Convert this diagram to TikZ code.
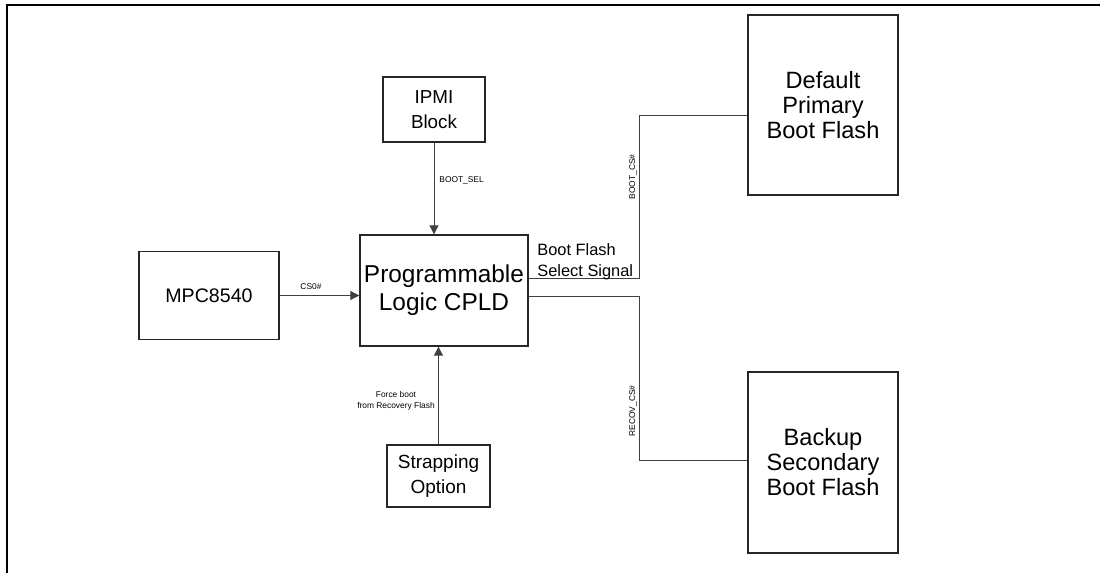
\documentclass[tikz,border=0pt]{standalone}
\usepackage{fontspec}
\setmainfont{Liberation Sans}
\usetikzlibrary{arrows.meta}

\begin{document}
\begin{tikzpicture}[x=0.5pt,y=-0.5pt]
\tikzstyle{every node}+=[inner sep=0pt]
\tikzstyle{blk}=[draw=black!85,line width=0.7pt,align=center]
\tikzstyle{sig}=[draw=black!75,line width=0.5pt]
\tikzstyle{arw}=[sig,-{Triangle[length=4.5pt,width=4.5pt]}]
\tikzstyle{tiny}=[font=\fontsize{4.2}{5.5}\selectfont,align=center]
\useasboundingbox (0,0) rectangle (1100,573);
% frame
\draw [line width=1.3pt] (1100,5) -- (7,5) -- (7,573);
% blocks
\node [blk,minimum width=51pt,minimum height=32.5pt,font=\fontsize{9.4}{12.5}\selectfont] (ipmi) at (434,109.5) {IPMI\\Block};
\node [blk,minimum width=70pt,minimum height=44pt,font=\fontsize{9.8}{12}\selectfont] (mpc) at (209,295.5) {MPC8540};
\node [blk,minimum width=84pt,minimum height=55.5pt,font=\fontsize{12.2}{14}\selectfont] (cpld) at (444,290.5) {Programmable\\Logic CPLD};
\node [blk,minimum width=51.5pt,minimum height=31pt,font=\fontsize{9.5}{12.5}\selectfont] (strap) at (438.5,476) {Strapping\\Option};
\node [blk,minimum width=75pt,minimum height=90pt,font=\fontsize{11.8}{12.5}\selectfont] (dflt) at (823,105) {Default\\Primary\\Boot Flash};
\node [blk,minimum width=75pt,minimum height=90.5pt,font=\fontsize{11.8}{12.5}\selectfont] (bkup) at (823,462.5) {Backup\\Secondary\\Boot Flash};
% jogs of the flash selects
\coordinate (bootJog) at (639,115);
\coordinate (recJog) at (639,460);
% connectors
\draw [arw] (ipmi.south) -- (ipmi.south |- cpld.north);
\draw [arw] (mpc.east) -- (mpc.east -| cpld.west);
\draw [arw] (strap.north) -- (strap.north |- cpld.south);
\draw [sig] ([yshift=6.25pt]cpld.east) -| (bootJog) -- (bootJog -| dflt.west);
\draw [sig] ([yshift=-2.75pt]cpld.east) -| (recJog) -- (recJog -| bkup.west);
% labels
\node [tiny,anchor=west] (lblSel) at (439,180) {BOOT\_SEL};
\node [tiny] (lblCs) at (311,287) {CS0\#};
\node [tiny] (lblForce) at (396,401) {Force boot\\from Recovery Flash};
\node [anchor=west,align=left,font=\fontsize{8.2}{10.5}\selectfont] (lblSig) at (537,262) {Boot Flash\\Select Signal};
\node [tiny,rotate=90] (lblBoot) at (633,177) {BOOT\_CS\#};
\node [tiny,rotate=90] (lblRec) at (633,411) {RECOV\_CS\#};
\end{tikzpicture}
\end{document}
